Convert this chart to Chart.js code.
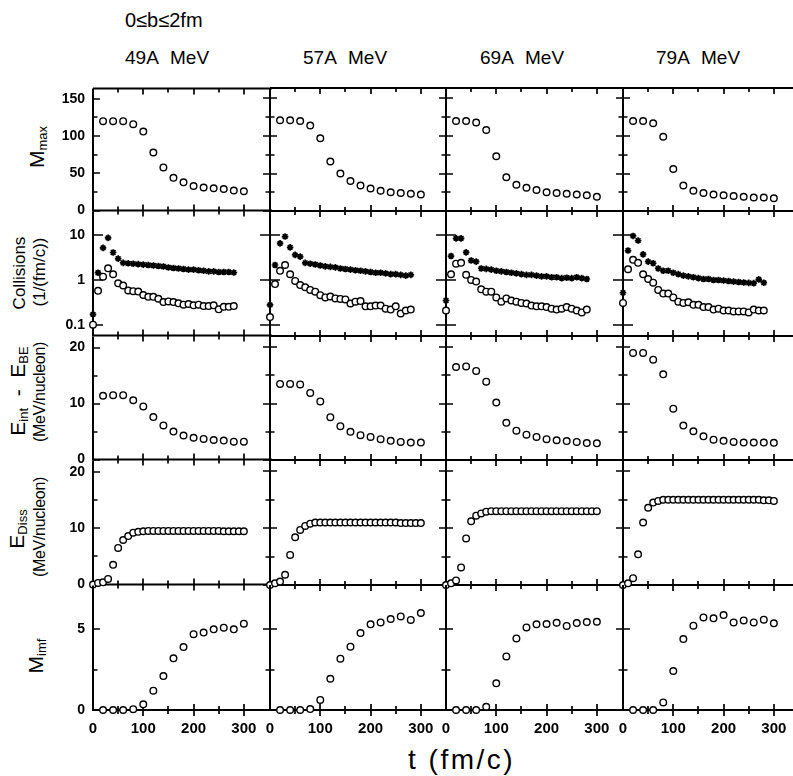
<!DOCTYPE html>
<html>
<head>
<meta charset="utf-8">
<script src="https://cdn.jsdelivr.net/npm/chart.js@4.4.1/dist/chart.umd.min.js"></script>
<style>
  body { margin: 0; background: #fff; width: 793px; height: 776px; overflow: hidden; position: relative;
         font-family: "Liberation Sans", Arial, sans-serif; color: #000; }
  canvas { position: absolute; }
  .txt { position: absolute; white-space: nowrap; line-height: 1; }
  .rot { position: absolute; white-space: nowrap; line-height: 1; transform: translate(-50%, -50%) rotate(-90deg); }
  sub { font-size: 0.62em; vertical-align: -0.3em; line-height: 0; }
</style>
</head>
<body>
<div class="txt" style="left:125px;top:10px;font-size:20px">0≤b≤2fm</div>
<div class="txt" style="left:125px;top:48px;font-size:19px;word-spacing:7px">49A MeV</div>
<div class="txt" style="left:303px;top:48px;font-size:19px;word-spacing:7px">57A MeV</div>
<div class="txt" style="left:480px;top:48px;font-size:19px;word-spacing:7px">69A MeV</div>
<div class="txt" style="left:656px;top:48px;font-size:19px;word-spacing:7px">79A MeV</div>

<div class="rot" style="left:36px;top:147px;font-size:21px">M<sub>max</sub></div>
<div class="rot" style="left:19px;top:273px;font-size:17px">Collisions</div>
<div class="rot" style="left:39px;top:272px;font-size:17px">(1/(fm/c))</div>
<div class="rot" style="left:17px;top:391px;font-size:21px">E<sub>int</sub>&nbsp;&nbsp;-&nbsp;&nbsp;E<sub>BE</sub></div>
<div class="rot" style="left:40px;top:392px;font-size:16px;letter-spacing:-0.3px">(MeV/nucleon)</div>
<div class="rot" style="left:16px;top:529px;font-size:21px">E<sub>Diss</sub></div>
<div class="rot" style="left:40px;top:527px;font-size:16px;letter-spacing:-0.3px">(MeV/nucleon)</div>
<div class="rot" style="left:35px;top:656px;font-size:21px">M<sub>imf</sub></div>

<div class="txt" style="left:408px;top:746px;font-size:28px;letter-spacing:2.5px">t&nbsp;(fm/c)</div>

<script>
// time grids (fm/c)
const tCoarse = [20, 40, 60, 80, 100, 120, 140, 160, 180, 200, 220, 240, 260, 280, 300];
const tFine = [0, 10, 20, 30, 40, 50, 60, 70, 80, 90, 100, 110, 120, 130, 140, 150, 160, 170, 180, 190,
               200, 210, 220, 230, 240, 250, 260, 270, 280];
const tDiss = [0, 10, 20, 30, 40, 50, 60, 70, 80, 90, 100, 110, 120, 130, 140, 150, 160, 170, 180, 190,
               200, 210, 220, 230, 240, 250, 260, 270, 280, 290, 300];

// axis ticks
const tTicks = [50, 100, 150, 200, 250, 300];
const tLabels = [0, 100, 200, 300];
const mMaxTicks = [0, 25, 50, 75, 100, 125, 150];
const mMaxLabels = [0, 50, 100, 150];
const collTicks = [0.1, 1, 10];
const eTicks = [0, 5, 10, 15, 20];
const eLabels = [0, 10, 20];
const mImfTicks = [0, 2.5, 5];
const mImfLabels = [0, 5];

// M_max
const mMax49 = [120, 120, 120, 116, 106, 78, 58, 44, 38, 33, 31, 30, 29, 27, 26];
const mMax57 = [121, 121, 120, 114, 97, 66, 50, 40, 34, 30, 27, 25, 24, 23, 22];
const mMax69 = [120, 120, 118, 108, 73, 45, 35, 31, 28, 25, 24, 23, 22, 21, 19];
const mMax79 = [120, 120, 117, 99, 56, 34, 27, 24, 22, 21, 20, 19, 18, 18, 17];

// collisions (stars / circles)
const collStar49 = [0.17, 1.45, 5.2, 8.7, 4.1, 3.0, 2.4, 2.35, 2.3, 2.25, 2.2, 2.15, 2.1, 2.05, 2.0, 1.9, 1.85, 1.8,
                    1.75, 1.7, 1.7, 1.65, 1.6, 1.55, 1.55, 1.5, 1.5, 1.5, 1.46];
const collCirc49 = [0.1, 0.57, 1.18, 1.82, 1.34, 0.84, 0.75, 0.58, 0.56, 0.55, 0.46, 0.42, 0.42, 0.38, 0.32, 0.33, 0.32,
                    0.3, 0.28, 0.29, 0.27, 0.28, 0.26, 0.26, 0.27, 0.22, 0.25, 0.25, 0.26];
const collStar57 = [0.28, 2.15, 6.5, 9.2, 5.3, 3.6, 3.3, 2.4, 2.3, 2.2, 2.1, 2.0, 1.95, 1.9, 1.8, 1.75, 1.7, 1.65, 1.6,
                    1.55, 1.5, 1.45, 1.45, 1.4, 1.35, 1.35, 1.3, 1.25, 1.3];
const collCirc57 = [0.15, 0.81, 1.6, 2.15, 1.34, 0.95, 0.77, 0.69, 0.6, 0.55, 0.46, 0.41, 0.43, 0.39, 0.38, 0.37, 0.3,
                    0.33, 0.34, 0.26, 0.26, 0.27, 0.27, 0.23, 0.22, 0.26, 0.18, 0.21, 0.22];
const collStar69 = [0.35, 3.4, 8.4, 8.4, 4.1, 2.7, 2.55, 1.8, 1.76, 1.7, 1.6, 1.55, 1.5, 1.45, 1.4, 1.35, 1.3, 1.3, 1.25,
                    1.2, 1.2, 1.15, 1.15, 1.1, 1.12, 1.1, 1.15, 1.1, 1.05];
const collCirc69 = [0.21, 1.34, 2.3, 2.4, 1.3, 1.0, 0.92, 0.62, 0.55, 0.55, 0.41, 0.33, 0.39, 0.35, 0.33, 0.31, 0.3,
                    0.27, 0.26, 0.26, 0.25, 0.23, 0.22, 0.23, 0.25, 0.23, 0.21, 0.19, 0.22];
const collStar79 = [0.52, 4.5, 9.5, 7.5, 3.7, 2.55, 2.35, 1.8, 1.6, 1.6, 1.45, 1.35, 1.25, 1.2, 1.15, 1.1, 1.05, 1.05,
                    1.0, 1.0, 0.97, 0.95, 0.92, 0.9, 0.88, 0.86, 0.85, 1.03, 0.87];
const collCirc79 = [0.31, 1.73, 2.8, 2.4, 1.34, 1.05, 0.87, 0.6, 0.5, 0.5, 0.41, 0.33, 0.31, 0.32, 0.28, 0.28, 0.25,
                    0.25, 0.22, 0.23, 0.21, 0.21, 0.2, 0.2, 0.2, 0.19, 0.22, 0.21, 0.21];

// E_int - E_BE
const eInt49 = [11.4, 11.5, 11.5, 10.6, 9.5, 7.6, 6.1, 5.0, 4.3, 3.9, 3.7, 3.5, 3.4, 3.2, 3.2];
const eInt57 = [13.5, 13.5, 13.4, 11.9, 10.4, 7.6, 6.0, 5.0, 4.4, 4.1, 3.7, 3.4, 3.2, 3.1, 3.1];
const eInt69 = [16.5, 16.6, 15.8, 13.9, 10.2, 6.6, 5.2, 4.5, 4.1, 3.7, 3.5, 3.35, 3.2, 3.0, 2.95];
const eInt79 = [19.0, 19.0, 17.8, 15.2, 9.1, 6.1, 5.1, 4.2, 3.6, 3.4, 3.2, 3.1, 3.1, 3.1, 3.05];

// E_Diss
const eDiss49 = [0, 0.3, 0.4, 1.0, 3.5, 6.5, 7.9, 8.6, 9.2, 9.35, 9.45, 9.5, 9.5, 9.5, 9.5, 9.5, 9.5, 9.5, 9.5, 9.5,
                 9.5, 9.5, 9.5, 9.5, 9.5, 9.5, 9.45, 9.45, 9.45, 9.45, 9.45];
const eDiss57 = [0, 0.3, 0.6, 1.8, 5.3, 8.4, 9.7, 10.4, 10.8, 11.0, 11.0, 11.0, 11.0, 11.0, 11.0, 11.0, 11.0, 11.0,
                 11.0, 11.0, 11.0, 11.0, 11.0, 11.0, 11.0, 11.0, 10.9, 10.9, 10.9, 10.9, 10.9];
const eDiss69 = [0, 0.3, 0.8, 3.1, 8.2, 11.2, 12.2, 12.6, 12.9, 13.0, 13.0, 13.0, 13.0, 13.0, 13.0, 13.0, 13.0, 13.0,
                 13.0, 13.0, 13.0, 13.0, 13.0, 13.0, 13.0, 13.0, 13.0, 13.0, 13.0, 13.0, 13.0];
const eDiss79 = [0, 0.3, 1.2, 5.4, 11.0, 13.6, 14.5, 14.8, 15.0, 15.0, 15.0, 15.0, 15.0, 15.0, 15.0, 15.0, 15.0, 15.0,
                 15.0, 15.0, 15.0, 15.0, 15.0, 15.0, 15.0, 15.0, 15.0, 15.0, 14.9, 14.9, 14.8];

// M_imf
const mImf49 = [0, 0, 0, 0.05, 0.35, 1.2, 2.1, 3.2, 3.9, 4.7, 4.8, 5.0, 5.1, 5.0, 5.35];
const mImf57 = [0, 0, 0, 0.06, 0.62, 1.93, 3.17, 3.91, 4.75, 5.29, 5.41, 5.62, 5.78, 5.56, 5.99];
const mImf69 = [0, 0, 0, 0.2, 1.65, 3.31, 4.42, 5.1, 5.29, 5.31, 5.39, 5.19, 5.37, 5.43, 5.45];
const mImf79 = [0, 0, 0, 0.47, 2.41, 4.38, 5.21, 5.72, 5.66, 5.86, 5.41, 5.53, 5.41, 5.58, 5.35];

// panel layout (px)
const colLeft = [93, 270, 446, 623];
const colWidth = 177;
const rowTop = [88, 211, 336, 460, 585];
const rowHeight = [123, 125, 124, 125, 125];
const tMax = 352;
const font = 'Liberation Sans';

function pts(ts, ys) {
  return ts.map((t, i) => ({ x: t, y: ys[i] }));
}
function circles(ts, ys) {
  return { data: pts(ts, ys), pointStyle: 'circle', pointRadius: 3.3, borderWidth: 1.4,
           borderColor: '#000', backgroundColor: '#fff', showLine: false, clip: false };
}
function stars(ts, ys) {
  return { data: pts(ts, ys), pointStyle: 'star', pointRadius: 3.3, borderWidth: 1.7,
           borderColor: '#000', backgroundColor: '#000', showLine: false, clip: false };
}

const rows = [
  { type: 'linear', min: 0, max: 164, ticks: mMaxTicks, labels: mMaxLabels, long: 7,
    sets: [[circles(tCoarse, mMax49)], [circles(tCoarse, mMax57)], [circles(tCoarse, mMax69)], [circles(tCoarse, mMax79)]] },
  { type: 'logarithmic', min: 0.057, max: 34, ticks: collTicks, labels: collTicks, long: 10,
    sets: [[circles(tFine, collCirc49), stars(tFine, collStar49)], [circles(tFine, collCirc57), stars(tFine, collStar57)],
           [circles(tFine, collCirc69), stars(tFine, collStar69)], [circles(tFine, collCirc79), stars(tFine, collStar79)]] },
  { type: 'linear', min: 0, max: 22, ticks: eTicks, labels: eLabels, long: 7,
    sets: [[circles(tCoarse, eInt49)], [circles(tCoarse, eInt57)], [circles(tCoarse, eInt69)], [circles(tCoarse, eInt79)]] },
  { type: 'linear', min: 0, max: 22, ticks: eTicks, labels: eLabels, long: 7,
    sets: [[circles(tDiss, eDiss49)], [circles(tDiss, eDiss57)], [circles(tDiss, eDiss69)], [circles(tDiss, eDiss79)]] },
  { type: 'linear', min: 0, max: 7.72, ticks: mImfTicks, labels: mImfLabels, long: 7,
    sets: [[circles(tCoarse, mImf49)], [circles(tCoarse, mImf57)], [circles(tCoarse, mImf69)], [circles(tCoarse, mImf79)]] }
];

// axis lines and crossing tick marks, placed through the chart scales
const framePlugin = {
  id: 'frame',
  beforeDatasetsDraw(chart) {
    const { ctx, chartArea: a, scales: { x, y } } = chart;
    const o = chart.options.plugins.frame;
    ctx.save();
    ctx.strokeStyle = '#000';
    ctx.lineCap = 'butt';
    ctx.lineWidth = 2;
    ctx.beginPath();
    ctx.moveTo(a.left, a.top);
    ctx.lineTo(a.left, a.bottom);
    ctx.lineTo(a.right + 2, a.bottom);
    if (o.top) {
      ctx.moveTo(a.left, a.top);
      ctx.lineTo(a.right + 2, a.top);
    }
    ctx.stroke();
    ctx.lineWidth = 1.7;
    ctx.beginPath();
    o.yTicks.forEach(v => {
      const py = Math.round(y.getPixelForValue(v));
      const len = o.yLabels.includes(v) ? o.long : 4.5;
      ctx.moveTo(a.left - (o.outside ? len : 0), py);
      ctx.lineTo(a.left + len, py);
    });
    tTicks.forEach(v => {
      const px = Math.round(x.getPixelForValue(v));
      const len = v % 100 === 0 ? 6 : 4;
      ctx.moveTo(px, a.bottom - len);
      ctx.lineTo(px, a.bottom + len);
      if (o.top) {
        ctx.moveTo(px, a.top);
        ctx.lineTo(px, a.top + len);
      }
    });
    ctx.stroke();
    ctx.restore();
  }
};

function makePanel(r, c) {
  const row = rows[r];
  const mL = c === 0 ? 60 : 16, mR = 16, mT = 16, mB = r === 4 ? 40 : 16;
  // the label-carrying scales get real room (labels are clipped to the scale box)
  const yW = c === 0 ? 56 : 0, xH = r === 4 ? 36 : 0;
  const w = colWidth + mL + mR, h = rowHeight[r] + mT + mB;
  const cv = document.createElement('canvas');
  cv.width = w; cv.height = h;
  cv.style.left = (colLeft[c] - mL) + 'px';
  cv.style.top = (rowTop[r] - mT) + 'px';
  cv.style.width = w + 'px'; cv.style.height = h + 'px';
  document.body.appendChild(cv);

  new Chart(cv, {
    type: 'scatter',
    data: { datasets: row.sets[c] },
    options: {
      responsive: false,
      animation: false,
      events: [],
      layout: { padding: { left: mL - yW, right: mR, top: mT, bottom: mB - xH } },
      plugins: {
        legend: { display: false },
        tooltip: { enabled: false },
        frame: { yTicks: row.ticks, yLabels: row.labels, long: row.long, outside: c > 0, top: r === 0 }
      },
      scales: {
        x: {
          type: 'linear', min: 0, max: tMax, display: r === 4,
          afterFit: s => { s.height = xH; },
          afterBuildTicks: s => { s.ticks = tLabels.map(v => ({ value: v })); },
          grid: { display: false, drawTicks: false },
          border: { display: false },
          ticks: { autoSkip: false, maxRotation: 0, padding: 10, color: '#000',
                   font: { family: font, size: 15, weight: 'bold' }, callback: v => String(v) }
        },
        y: {
          type: row.type, min: row.min, max: row.max, display: c === 0,
          afterFit: s => { s.width = yW; },
          afterBuildTicks: s => { s.ticks = row.labels.map(v => ({ value: v })); },
          grid: { display: false, drawTicks: false },
          border: { display: false },
          ticks: { autoSkip: false, padding: 8, color: '#000',
                   font: { family: font, size: 14, weight: 'bold' }, callback: v => String(v) }
        }
      }
    },
    plugins: [framePlugin]
  });
}

for (let r = 0; r < rows.length; r++) {
  for (let c = 0; c < colLeft.length; c++) {
    makePanel(r, c);
  }
}
</script>
</body>
</html>
